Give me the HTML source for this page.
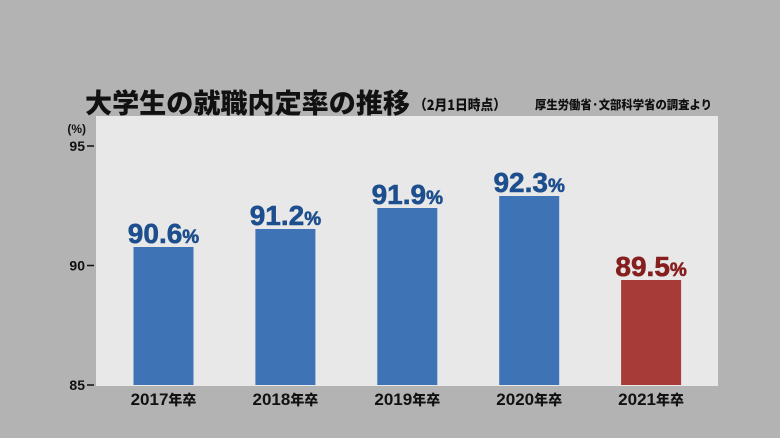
<!DOCTYPE html>
<html><head><meta charset="utf-8"><style>
body{margin:0;width:780px;height:438px;background:#b3b3b3;overflow:hidden;font-family:"Liberation Sans","Noto Sans CJK JP",sans-serif}
svg{display:block}
</style></head><body>
<svg id="chart" width="780" height="438" xmlns="http://www.w3.org/2000/svg">
<rect x="0" y="0" width="780" height="438" fill="#b3b3b3"/>
<rect x="96" y="116" width="622" height="270" fill="#e8e8e8"/>
<text x="85" y="113" font-size="27" font-weight="900" fill="#111" font-family="Noto Sans CJK JP, sans-serif" textLength="325" lengthAdjust="spacingAndGlyphs">大学生の就職内定率の推移</text>
<text x="414" y="110" font-size="14" font-weight="900" fill="#111" font-family="Noto Sans CJK JP, sans-serif" textLength="92" lengthAdjust="spacingAndGlyphs">（2月1日時点）</text>
<text x="535" y="109" font-size="12" font-weight="900" fill="#111" font-family="Noto Sans CJK JP, sans-serif" textLength="177" lengthAdjust="spacingAndGlyphs">厚生労働省·文部科学省の調査より</text>
<text x="86" y="133" text-anchor="end" font-size="12" font-weight="bold" fill="#111">(%)</text>
<g id="ticks"></g>
<g id="bars"></g>
</svg>
<script>
const categories = ["2017年卒","2018年卒","2019年卒","2020年卒","2021年卒"];
const values = [90.6, 91.2, 91.9, 92.3, 89.5];
const labels = ["90.6","91.2","91.9","92.3","89.5"];
const tickValues = [85, 90, 95];
const tickLabels = ["85","90","95"];
const highlight = [false,false,false,false,true];

const NS="http://www.w3.org/2000/svg";
function yBar(v){return 385-(v-86)*30;}
function yTick(v){return 385-(v-85)*23.9;}
function xCenter(i){return 163.5+i*121.9;}
const barW=60;
const tg=document.getElementById('ticks');
tickValues.forEach((t,i)=>{
  const y=yTick(t);
  const l=document.createElementNS(NS,'line');
  
  
  l.setAttribute('x1',87);l.setAttribute('x2',94);l.setAttribute('y1',y);l.setAttribute('y2',y);
  l.setAttribute('stroke','#111');l.setAttribute('stroke-width','1.5');
  tg.appendChild(l);
  const tx=document.createElementNS(NS,'text');
  
  
  tx.setAttribute('x',85);tx.setAttribute('y',y+5);tx.setAttribute('text-anchor','end');
  tx.setAttribute('font-size','14');tx.setAttribute('font-weight','bold');tx.setAttribute('fill','#111');
  tx.textContent=tickLabels[i];
  tg.appendChild(tx);
});
const bg=document.getElementById('bars');
values.forEach((v,i)=>{
  const cx=xCenter(i), top=yBar(v);
  const r=document.createElementNS(NS,'rect');
  
  
  r.setAttribute('x',cx-barW/2);r.setAttribute('y',top);r.setAttribute('width',barW);r.setAttribute('height',yBar(86)-top);
  r.setAttribute('fill',highlight[i]?'#a63b38':'#3e73b5');
  bg.appendChild(r);
  const t=document.createElementNS(NS,'text');
  
  
  t.setAttribute('x',cx);t.setAttribute('y',top-4);t.setAttribute('text-anchor','middle');
  t.setAttribute('font-weight','bold');t.setAttribute('fill',highlight[i]?'#861e1e':'#1d4f8e');
  t.setAttribute('stroke',highlight[i]?'#861e1e':'#1d4f8e');t.setAttribute('stroke-width','0.6');
  t.innerHTML='<tspan font-size="28">'+labels[i]+'</tspan><tspan font-size="19">%</tspan>';
  bg.appendChild(t);
  const xl=document.createElementNS(NS,'text');
  
  
  xl.setAttribute('x',cx);xl.setAttribute('y',405);xl.setAttribute('text-anchor','middle');
  xl.setAttribute('font-weight','bold');xl.setAttribute('fill','#111');
  xl.innerHTML='<tspan font-size="17">'+categories[i].slice(0,4)+'</tspan><tspan font-size="14" font-family="Noto Sans CJK JP, sans-serif" font-weight="900">'+categories[i].slice(4)+'</tspan>';
  bg.appendChild(xl);
});
</script>
</body></html>
